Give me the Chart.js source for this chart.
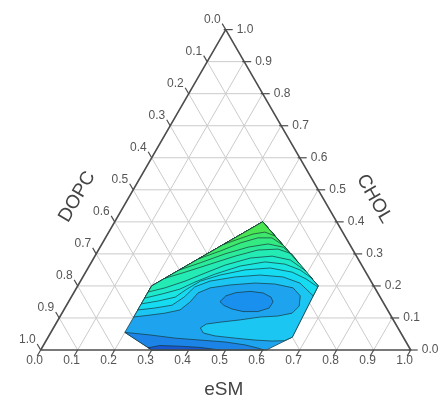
<!DOCTYPE html>
<html>
<head>
<meta charset="utf-8">
<script src="https://cdn.jsdelivr.net/npm/chart.js@4.4.1/dist/chart.umd.min.js"></script>
<style>
  html, body { margin: 0; padding: 0; background: #fff; }
  #wrap { width: 446px; height: 403px; }
</style>
</head>
<body>
<div id="wrap"><canvas id="ternary" width="446" height="403"></canvas></div>
<script>
// every point is a composition [eSM, CHOL]; DOPC = 1 - eSM - CHOL
const tickValues = [0, 0.1, 0.2, 0.3, 0.4, 0.5, 0.6, 0.7, 0.8, 0.9, 1.0];
const tickLabels = ["0.0", "0.1", "0.2", "0.3", "0.4", "0.5", "0.6", "0.7", "0.8", "0.9", "1.0"];
const bottomTitle = "eSM";
const leftTitle = "DOPC";
const rightTitle = "CHOL";

// measured region (outer boundary of the contour map)
const outline = [[0.20, 0.20], [0.40, 0.40], [0.65, 0.20], [0.66, 0.04], [0.61, 0.00], [0.30, 0.00], [0.20, 0.055]];

// lower levels
const darkStrip = [[0.20, 0.055], [0.272, 0.047], [0.345, 0.037], [0.415, 0.031], [0.486, 0.025], [0.544, 0.016], [0.584, 0.006], [0.603, 0.0], [0.30, 0.0]];
const darkestStrip = [[0.287, 0.007], [0.315, 0.014], [0.370, 0.012], [0.427, 0.008], [0.485, 0.0], [0.30, 0.0]];
const island = [[0.409, 0.151], [0.416, 0.169], [0.438, 0.179], [0.475, 0.183], [0.512, 0.178], [0.540, 0.165], [0.553, 0.150], [0.552, 0.131], [0.527, 0.120], [0.487, 0.120], [0.453, 0.128], [0.426, 0.139]];
const lightBand = [[0.20, 0.103], [0.241, 0.109], [0.278, 0.115], [0.314, 0.125], [0.329, 0.150], [0.336, 0.178], [0.361, 0.194], [0.410, 0.203], [0.475, 0.209], [0.530, 0.206], [0.585, 0.194], [0.617, 0.169], [0.630, 0.137], [0.622, 0.115], [0.588, 0.106], [0.542, 0.103], [0.492, 0.094], [0.442, 0.087], [0.407, 0.081], [0.397, 0.069], [0.413, 0.053], [0.449, 0.044], [0.507, 0.037], [0.564, 0.031], [0.611, 0.028], [0.644, 0.029], [0.66, 0.04], [0.65, 0.20], [0.40, 0.40], [0.20, 0.20]];

// upper levels, cyan to green
const level8 = [[0.20, 0.125], [0.243, 0.131], [0.285, 0.140], [0.305, 0.165], [0.318, 0.197], [0.350, 0.215], [0.411, 0.228], [0.476, 0.234], [0.541, 0.228], [0.596, 0.209], [0.652, 0.169], [0.65, 0.20], [0.40, 0.40], [0.20, 0.20]];
const level7 = [[0.20, 0.144], [0.241, 0.153], [0.281, 0.165], [0.300, 0.190], [0.324, 0.215], [0.368, 0.234], [0.427, 0.250], [0.492, 0.256], [0.558, 0.243], [0.606, 0.222], [0.650, 0.197], [0.65, 0.20], [0.40, 0.40], [0.20, 0.20]];
const level6 = [[0.20, 0.162], [0.241, 0.175], [0.281, 0.190], [0.311, 0.212], [0.353, 0.237], [0.408, 0.262], [0.469, 0.275], [0.526, 0.268], [0.576, 0.250], [0.624, 0.222], [0.40, 0.40], [0.20, 0.20]];
const level5 = [[0.20, 0.181], [0.239, 0.194], [0.283, 0.215], [0.324, 0.240], [0.366, 0.265], [0.423, 0.287], [0.479, 0.293], [0.534, 0.281], [0.593, 0.247], [0.40, 0.40], [0.20, 0.20]];
const level4 = [[0.224, 0.224], [0.269, 0.243], [0.324, 0.268], [0.379, 0.293], [0.431, 0.312], [0.484, 0.315], [0.529, 0.300], [0.561, 0.272], [0.40, 0.40]];
const level3 = [[0.25, 0.25], [0.295, 0.272], [0.348, 0.300], [0.400, 0.321], [0.449, 0.331], [0.495, 0.321], [0.526, 0.300], [0.40, 0.40]];
const level2 = [[0.285, 0.285], [0.331, 0.309], [0.372, 0.334], [0.412, 0.350], [0.450, 0.350], [0.490, 0.328], [0.40, 0.40]];
const level1 = [[0.33, 0.33], [0.365, 0.348], [0.393, 0.362], [0.422, 0.368], [0.455, 0.356], [0.40, 0.40]];

// ternary -> cartesian (triangle with unit base, y in units of the height)
const toXY = ([a, c]) => ({ x: a + c / 2, y: c });
const closed = (pts) => pts.concat([pts[0]]).map(toXY);

const layers = [];

// grid lines
tickValues.slice(1, -1).forEach((v) => {
  const segs = [
    [[0, v], [1 - v, v]],   // CHOL const
    [[v, 0], [v, 1 - v]],   // eSM const
    [[0, 1 - v], [1 - v, 0]] // DOPC const
  ];
  segs.forEach((s) => {
    layers.push({ data: s.map(toXY), borderColor: "#cbcbcb", borderWidth: 1, fill: false });
  });
});

const contourLine = "rgba(22,50,52,0.85)";
const bands = [
  [outline, "#1ea4ee"],
  [darkStrip, "#1c84e6"],
  [darkestStrip, "#1858d0"],
  [lightBand, "#1cc6f3"],
  [island, "#1a90ee"],
  [level8, "#16dcf2"],
  [level7, "#1ae5e3"],
  [level6, "#1ee9cb"],
  [level5, "#24eab3"],
  [level4, "#2beb9b"],
  [level3, "#34ea82"],
  [level2, "#3ee86a"],
  [level1, "#4ae553"]
];
bands.forEach(([pts, color]) => {
  layers.push({ data: closed(pts), backgroundColor: color, borderColor: contourLine, borderWidth: 0.8, fill: "shape" });
});

// triangle frame
layers.push({ data: closed([[0, 0], [1, 0], [0, 1]]), borderColor: "#4d4d4d", borderWidth: 1.6, fill: false });

layers.forEach((d, i) => { d.order = layers.length - i; });

const ternaryAxes = {
  id: "ternaryAxes",
  afterDraw(chart) {
    const { ctx } = chart;
    const sx = chart.scales.x, sy = chart.scales.y;
    const px = (a, c) => [sx.getPixelForValue(a + c / 2), sy.getPixelForValue(c)];
    const seg = (x1, y1, x2, y2) => { ctx.beginPath(); ctx.moveTo(x1, y1); ctx.lineTo(x2, y2); ctx.stroke(); };

    ctx.save();
    ctx.strokeStyle = "#4d4d4d";
    ctx.lineWidth = 1.2;
    ctx.fillStyle = "#555";
    ctx.font = '12px "Liberation Sans", Arial, sans-serif';
    ctx.textBaseline = "middle";
    tickValues.forEach((v, i) => {
      // eSM along the bottom
      let [tx, ty] = px(v, 0);
      seg(tx, ty, tx - 3.5, ty + 6);
      ctx.textAlign = "center";
      ctx.fillText(tickLabels[i], tx - 6, ty + 11);
      // CHOL along the right side
      [tx, ty] = px(1 - v, v);
      seg(tx - 2, ty, tx + 7, ty);
      ctx.textAlign = "left";
      ctx.fillText(tickLabels[i], tx + 11, ty);
      // DOPC along the left side
      [tx, ty] = px(0, 1 - v);
      seg(tx, ty, tx - 3.5, ty - 6);
      ctx.textAlign = "right";
      ctx.fillText(tickLabels[i], tx - 5, ty - 10);
    });

    ctx.fillStyle = "#444";
    ctx.font = '19px "Liberation Sans", Arial, sans-serif';
    ctx.textAlign = "center";
    let [bx, by] = px(0.5, 0);
    ctx.fillText(bottomTitle, bx - 2, by + 40);

    let [lx, ly] = px(0, 0.5);
    ctx.save();
    ctx.translate(lx - 56, ly + 7);
    ctx.rotate(-Math.PI / 3);
    ctx.fillText(leftTitle, 0, 0);
    ctx.restore();

    let [rx, ry] = px(0.5, 0.5);
    ctx.save();
    ctx.translate(rx + 56, ry + 9);
    ctx.rotate(Math.PI / 3);
    ctx.fillText(rightTitle, 0, 0);
    ctx.restore();
    ctx.restore();
  }
};

const ctx = document.getElementById("ternary").getContext("2d");
new Chart(ctx, {
  type: "line",
  data: { datasets: layers },
  options: {
    responsive: false,
    animation: false,
    devicePixelRatio: 1,
    layout: { padding: 0 },
    elements: {
      point: { radius: 0, hoverRadius: 0 },
      line: { tension: 0, borderJoinStyle: "round" }
    },
    plugins: { legend: { display: false }, tooltip: { enabled: false } },
    events: [],
    scales: {
      x: { type: "linear", display: false, min: -0.110, max: 1.0954 },
      y: { type: "linear", display: false, min: -0.1654, max: 1.0924 }
    }
  },
  plugins: [ternaryAxes]
});
</script>
</body>
</html>
